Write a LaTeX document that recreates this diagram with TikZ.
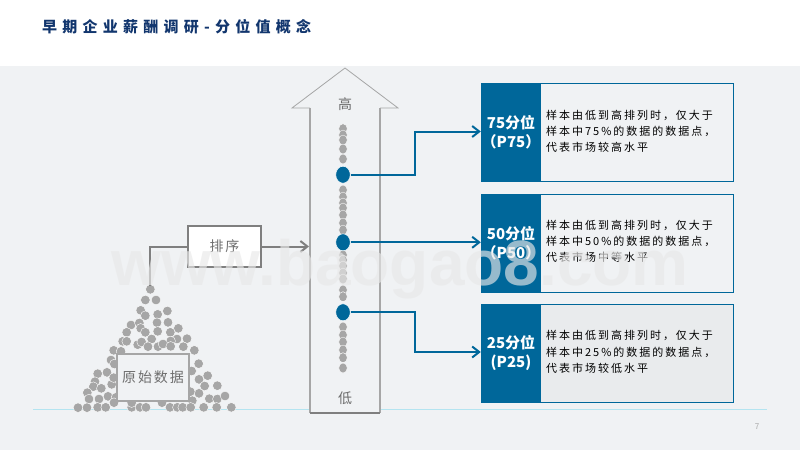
\documentclass[tikz,border=0pt]{standalone}
\usepackage{fontspec}
\setmainfont{Noto Sans CJK SC}
\newfontfamily\wmfont{Liberation Sans}
\newfontfamily\ttlfont[LetterSpace=35]{Noto Sans CJK SC}
\newfontfamily\bodyfont[LetterSpace=18]{Noto Sans CJK SC}
\newfontfamily\lblfont[LetterSpace=14]{Noto Sans CJK SC}
\usetikzlibrary{arrows.meta,shapes.geometric}
\definecolor{bgc}{HTML}{F0F2F4}
\definecolor{blu}{HTML}{00679A}
\definecolor{navy}{HTML}{12366E}
\definecolor{gry}{HTML}{A6A6A6}
\definecolor{dgry}{HTML}{7F7F7F}
\definecolor{txtg}{HTML}{6E6E6E}
\definecolor{ruleblue}{HTML}{B4E4F0}
\tikzset{
  dotc/.style={fill=gry,draw=white,line width=0.4pt},
  bigdot/.style={ellipse,fill=blu,draw=white,line width=0.5pt,minimum width=14.5pt,minimum height=17pt,inner sep=0pt},
  blink/.style={draw=blu,line width=2pt,-{Straight Barb[length=7pt,width=11pt,line width=2pt]}},
  glink/.style={draw=dgry,line width=2pt},
  head/.style={fill=blu,minimum width=60pt,minimum height=99pt,inner sep=0pt,text=white,align=center,font=\bfseries\fontsize{15}{19}\selectfont},
  panel/.style={draw=blu,line width=1pt,minimum width=251pt,minimum height=98pt,inner sep=0pt,anchor=north west},
  body/.style={anchor=west,align=left,inner sep=0pt,text=black,font=\bodyfont\fontsize{11}{16.3}\selectfont},
  lbl/.style={text=txtg,font=\lblfont\fontsize{14}{16}\selectfont},
  greybox/.style={draw=dgry,line width=2pt,fill=white,inner sep=0pt,lbl}
}
\begin{document}
\begin{tikzpicture}[x=1pt,y=-1pt]
\useasboundingbox (0,0) rectangle (800,450);
\fill[white] (0,0) rectangle (800,450);
\fill[bgc] (0,66) rectangle (800,450);
\node[anchor=west,inner sep=0pt,text=navy,font=\ttlfont\bfseries\fontsize{15}{18}\selectfont] (title) at (42,27) {早期企业薪酬调研-分位值概念};
\coordinate (lineL) at (33,409);
\coordinate (lineR) at (767,409);
\draw[draw=ruleblue,line width=1pt] (lineL) -- (lineR);
\node[text=gry,font=\fontsize{8}{10}\selectfont,inner sep=0pt] (pagenum) at (757,427) {7};
% pile of dots
\foreach \a/\b in {271/58,256/90,288/90,242/121,256/137,293/133,322/123,213/165,238/159,291/158,324/157,200/187,242/175,256/187,293/184,355/175,331/187,188/214,200/214,275/207,351/207,332/213,381/206,161/241,183/244,233/224,245/216,264/230,294/230,309/222,332/229,370/230,403/241,153/270,163/282,416/281,141/307,113/311,395/303,105/335,100/350,124/355,155/343,161/323,417/328,443/317,434/348,472/347,82/368,87/387,117/387,144/379,168/382,162/398,417/370,391/365,448/386,472/387,495/378,397/392,54/413,81/413,113/412,137/412,215/412,240/412,258/412,330/412,352/412,368/412,392/412,431/412,470/412,514/412,215/398,306/398}
  \draw[dotc] ({60+\a/3},{270+\b/3}) circle (4.8);
\node[draw=gry,line width=1.2pt,fill=bgc,minimum width=72pt,minimum height=47pt,inner sep=0pt,lbl] (raw) at (153,377.5) {原始数据};
% sort box
\node[greybox,minimum width=73pt,minimum height=41pt] (sortb) at (224.5,246.5) {排序};
\coordinate (pileTop) at (150,286);
\draw[glink] (pileTop) -- (150,246.5) -- (sortb.west);
% big arrow
\path[fill=bgc] (345,68) -- (398,108) -- (380,108) -- (380,413) -- (310,413) -- (310,108) -- (292,108) -- cycle;
\draw[gry,line width=0.8pt] (310,108) -- (292,108) -- (345,68) -- (398,108) -- (380,108);
\draw[gry,line width=1.2pt] (310,108) -- (310,413);
\draw[gry,line width=1.2pt] (380,108) -- (380,413);
\draw[dgry,line width=1.2pt] (310,413) -- (380,413);
\coordinate (arrowEdge) at (309,246.5);
\draw[glink,-{Straight Barb[length=7pt,width=11pt,line width=2pt]}] (sortb.east) -- (arrowEdge);
\node[lbl,inner sep=0pt] (hi) at (345,104) {高};
\node[lbl,inner sep=0pt] (lo) at (345,398) {低};
% column dots
\foreach \y in {128.7,135,140,149,159,190,197,203,208,215,223,230,255,260,266,273,279,290,296.7,327,335,342,350,357.7,368}
  \draw[dotc] (343,\y) ellipse (4.3 and 5);
\node[bigdot] (d75) at (343,174.7) {};
\node[bigdot] (d50) at (343,242.3) {};
\node[bigdot] (d25) at (343,312.3) {};
% panels
\node[panel] (box75) at (481.5,83) {};
\node[panel] (box50) at (481.5,193.5) {};
\node[panel,fill=black!3!bgc] (box25) at (481.5,304) {};
\node[head] (h75) at (511,132.5) {75分位\\（P75）};
\node[head] (h50) at (511,243) {50分位\\（P50）};
\node[head] (h25) at (511,353) {25分位\\(P25)};
\node[body] (t75) at (546,131.5) {样本由低到高排列时，仅大于\\样本中75\%的数据的数据点，\\代表市场较高水平};
\node[body] (t50) at (546,241.5) {样本由低到高排列时，仅大于\\样本中50\%的数据的数据点，\\代表市场中等水平};
\node[body] (t25) at (546,352) {样本由低到高排列时，仅大于\\样本中25\%的数据的数据点，\\代表市场较低水平};
% connectors
\draw[blink] (d75.east) -- (415,174.7) -- (415,131.5) -- (h75.west |- 0,131.5);
\draw[blink] (d50.east) -- (h50.west |- d50);
\draw[blink] (d25.east) -- (415,312.3) -- (415,352) -- (h25.west |- 0,352);
% watermark
\node[text=black!9!white,opacity=0.65,inner sep=0pt,anchor=base,font=\wmfont\bfseries\fontsize{64}{64}\selectfont] (wm) at (400,285.5) {www.baogao8.com};
\end{tikzpicture}
\end{document}
